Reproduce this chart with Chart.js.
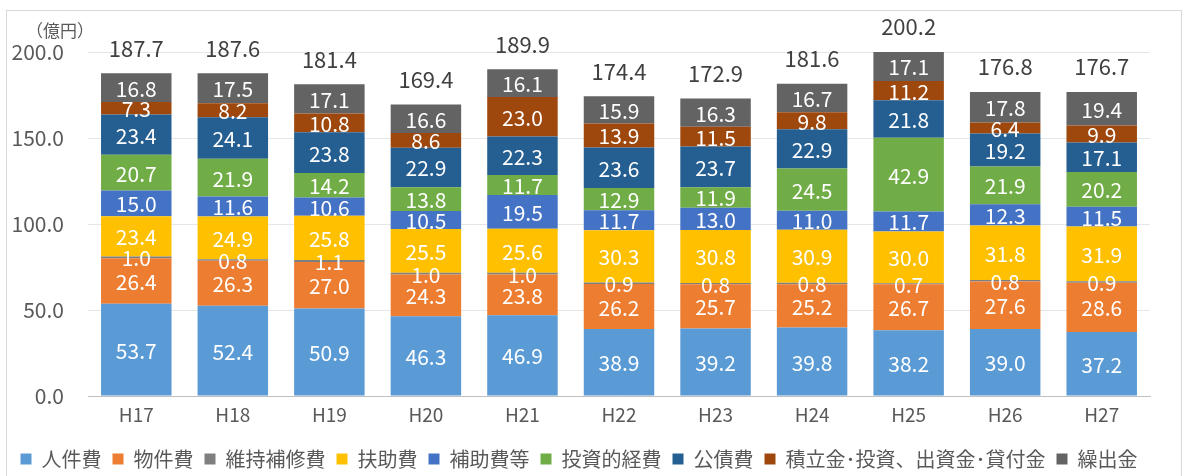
<!DOCTYPE html>
<html>
<head>
<meta charset="utf-8">
<script src="https://cdn.jsdelivr.net/npm/chart.js@4/dist/chart.umd.min.js"></script>
<style>
  html, body { margin: 0; padding: 0; background: #fff; }
  #wrap { width: 1185px; height: 476px; position: relative; }
</style>
</head>
<body>
<div id="wrap"><canvas id="c" width="1185" height="476"></canvas></div>
<script>
const years = ["H17","H18","H19","H20","H21","H22","H23","H24","H25","H26","H27"];

const jinkenhi   = [53.7, 52.4, 50.9, 46.3, 46.9, 38.9, 39.2, 39.8, 38.2, 39.0, 37.2];
const bukkenhi   = [26.4, 26.3, 27.0, 24.3, 23.8, 26.2, 25.7, 25.2, 26.7, 27.6, 28.6];
const ijihoshu   = [1.0, 0.8, 1.1, 1.0, 1.0, 0.9, 0.8, 0.8, 0.7, 0.8, 0.9];
const fujohi     = [23.4, 24.9, 25.8, 25.5, 25.6, 30.3, 30.8, 30.9, 30.0, 31.8, 31.9];
const hojohi     = [15.0, 11.6, 10.6, 10.5, 19.5, 11.7, 13.0, 11.0, 11.7, 12.3, 11.5];
const toushiteki = [20.7, 21.9, 14.2, 13.8, 11.7, 12.9, 11.9, 24.5, 42.9, 21.9, 20.2];
const kousaihi   = [23.4, 24.1, 23.8, 22.9, 22.3, 23.6, 23.7, 22.9, 21.8, 19.2, 17.1];
const tsumitate  = [7.3, 8.2, 10.8, 8.6, 23.0, 13.9, 11.5, 9.8, 11.2, 6.4, 9.9];
const kuridashi  = [16.8, 17.5, 17.1, 16.6, 16.1, 15.9, 16.3, 16.7, 17.1, 17.8, 19.4];
const totals     = [187.7, 187.6, 181.4, 169.4, 189.9, 174.4, 172.9, 181.6, 200.2, 176.8, 176.7];

const yTicks = [0, 50, 100, 150, 200];

const series = [
  ["人件費", jinkenhi, "#5B9BD5"],
  ["物件費", bukkenhi, "#ED7D31"],
  ["維持補修費", ijihoshu, "#7F7F7F"],
  ["扶助費", fujohi, "#FFC000"],
  ["補助費等", hojohi, "#4472C4"],
  ["投資的経費", toushiteki, "#70AD47"],
  ["公債費", kousaihi, "#255E91"],
  ["積立金･投資、出資金･貸付金", tsumitate, "#9E480E"],
  ["繰出金", kuridashi, "#636363"],
];

const FONT = "'Noto Sans CJK JP', 'Noto Sans', sans-serif";

// labels inside segments + totals on top
const labelPlugin = {
  id: "labels",
  afterDatasetsDraw(chart){
    const ctx = chart.ctx;
    ctx.save();
    ctx.textAlign = "center";
    ctx.textBaseline = "middle";
    ctx.font = "21px " + FONT;
    ctx.fillStyle = "#fff";
    chart.data.datasets.forEach((ds, i) => {
      const meta = chart.getDatasetMeta(i);
      meta.data.forEach((bar, j) => {
        const yc = (bar.y + bar.base) / 2;
        ctx.fillText(ds.data[j].toFixed(1), bar.x, yc + 1);
      });
    });
    const last = chart.getDatasetMeta(chart.data.datasets.length - 1);
    ctx.fillStyle = "#404040";
    ctx.font = "22px " + FONT;
    last.data.forEach((bar, j) => {
      ctx.fillText(totals[j].toFixed(1), bar.x, bar.y - 25);
    });
    ctx.restore();
  },
  afterDraw(chart){
    const ctx = chart.ctx;
    ctx.save();
    ctx.strokeStyle = "#D9D9D9";
    ctx.lineWidth = 1;
    ctx.strokeRect(6.5, 10.5, 1175, 480);
    ctx.fillStyle = "#595959";
    ctx.font = "17px " + FONT;
    ctx.textAlign = "left";
    ctx.textBaseline = "middle";
    ctx.fillText("（億円）", 26, 31);
    ctx.restore();
  }
};

new Chart(document.getElementById("c"), {
  type: "bar",
  data: {
    labels: years,
    datasets: series.map(([label, data, color]) => ({
      label, data,
      backgroundColor: color,
      borderWidth: 0,
      categoryPercentage: 0.73,
      barPercentage: 1.0,
    }))
  },
  options: {
    responsive: false,
    animation: false,
    layout: {padding: {left: 8, right: 35, top: 52, bottom: -3}},
    plugins: {
      legend: {
        position: "bottom",
        labels: {
          boxWidth: 11, boxHeight: 11, padding: 11,
          color: "#595959",
          font: {size: 20, family: FONT}
        }
      },
      tooltip: {enabled: false}
    },
    scales: {
      x: {
        stacked: true,
        grid: {display: false, drawTicks: false},
        border: {color: "#BFBFBF", width: 1},
        afterFit(scale){ scale.height = 42; },
        ticks: {color: "#595959", font: {size: 19, family: FONT}, padding: 7}
      },
      y: {
        stacked: true,
        min: 0, max: 200,
        afterBuildTicks(scale){ scale.ticks = yTicks.map(v => ({value: v})); },
        afterFit(scale){ scale.width = 80; },
        grid: {color: "#E6E6E6", drawTicks: false},
        border: {display: false},
        ticks: {
          color: "#595959", font: {size: 21, family: FONT}, padding: 24,
          callback: v => Number(v).toFixed(1)
        }
      }
    }
  },
  plugins: [labelPlugin]
});
</script>
</body>
</html>
